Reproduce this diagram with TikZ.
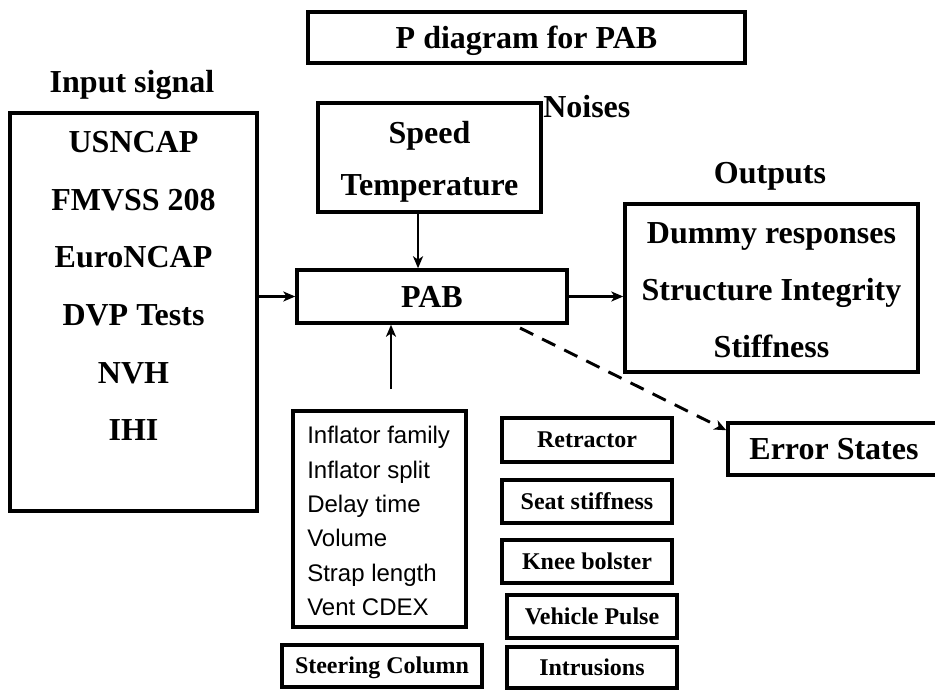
\documentclass[tikz,border=0pt]{standalone}
\usepackage{fontspec}
\setmainfont{Liberation Serif}
\newfontfamily\arialfont{Liberation Sans}
\usetikzlibrary{arrows.meta,positioning}

\tikzset{
  frame/.style={draw, line width=2.6pt, inner sep=0pt},
  head/.style={font=\fontsize{24}{27}\selectfont\bfseries, text height=15.9pt, text depth=0pt},
  small/.style={font=\fontsize{18}{20}\selectfont\bfseries, text height=11.9pt, text depth=0pt},
  plain/.style={font=\arialfont\fontsize{18}{20}\selectfont, text height=12.9pt, text depth=0pt, inner sep=0pt},
  link/.style={line width=2pt, -{Stealth[length=9pt,width=7.5pt,inset=2.5pt]}},
}

\begin{document}
\begin{tikzpicture}[x=0.75pt,y=-0.75pt]
\useasboundingbox (0,0) rectangle (935,689);

% Title
\node[frame, head, minimum width=327.75pt, minimum height=38.25pt] (title) at (526.5,37.5) {P diagram for PAB};

% Input signals
\node[head] (inlbl) at (132,82) {Input signal};
\node[frame, minimum width=185.25pt, minimum height=298.5pt] (inputs) at (133.5,312) {};
\foreach \t [count=\i] in {USNCAP,FMVSS 208,EuroNCAP,DVP Tests,NVH,IHI}
  \node[head] (in\i) at (133.5,{142+57.6*(\i-1)}) {\t};

% Noise factors
\node[frame, minimum width=167.25pt, minimum height=81.75pt] (noise) at (429.5,157.5) {};
\node[head] (speed) at (429.5,133) {Speed};
\node[head] (temp) at (429.5,185) {Temperature};
\node[head, anchor=west, inner sep=0pt] (nlbl) at (543,107) {Noises};

% System
\node[frame, head, minimum width=202.5pt, minimum height=39.75pt] (pab) at (432,296.5) {PAB};

% Outputs
\node[head] (outlbl) at (770,173) {Outputs};
\node[frame, minimum width=219.75pt, minimum height=126pt] (outputs) at (771.5,288) {};
\foreach \t [count=\i] in {Dummy responses,Structure Integrity,Stiffness}
  \node[head] (out\i) at (771.5,{233+57*(\i-1)}) {\t};

% Error states
\node[frame, head, minimum width=159pt, minimum height=39pt] (err) at (834,449) {Error States};

% Control factors
\node[frame, minimum width=129.75pt, minimum height=162pt] (ctrl) at (379.5,519) {};
\foreach \t [count=\i] in {Inflator family,Inflator split,Delay time,Volume,Strap length,Vent CDEX}
  \node[plain, anchor=west] (c\i) at (307,{435+34.4*(\i-1)}) {\t};
\node[frame, small, minimum width=150pt, minimum height=31.5pt] (steer) at (382,666) {Steering Column};

% Other noise sources
\node[frame, small, minimum width=127.5pt, minimum height=33pt] (retr) at (587,440) {Retractor};
\node[frame, small, minimum width=127.5pt, minimum height=32.25pt] (seat) at (587,501.5) {Seat stiffness};
\node[frame, small, minimum width=127.5pt, minimum height=32.25pt] (knee) at (587,561.5) {Knee bolster};
\node[frame, small, minimum width=127.5pt, minimum height=32.25pt] (pulse) at (592,616.5) {Vehicle Pulse};
\node[frame, small, minimum width=127.5pt, minimum height=30.75pt] (intr) at (592,667.5) {Intrusions};

% Arrows
\coordinate (cf) at (391,389);
\coordinate (dstart) at (520,328);
\draw[link] (inputs.east |- pab.west) -- (pab.west);
\draw[link] ([xshift=-8.6pt]noise.south) -- ([xshift=-8.6pt]noise.south |- pab.north);
\draw[link] (pab.east) -- (outputs.west |- pab.east);
\draw[link] (cf) -- (cf |- pab.south);
\draw[link, line width=2.2pt, dash pattern=on 11pt off 7.5pt] (dstart) -- ([yshift=-6.75pt]err.north west);
\end{tikzpicture}
\end{document}
